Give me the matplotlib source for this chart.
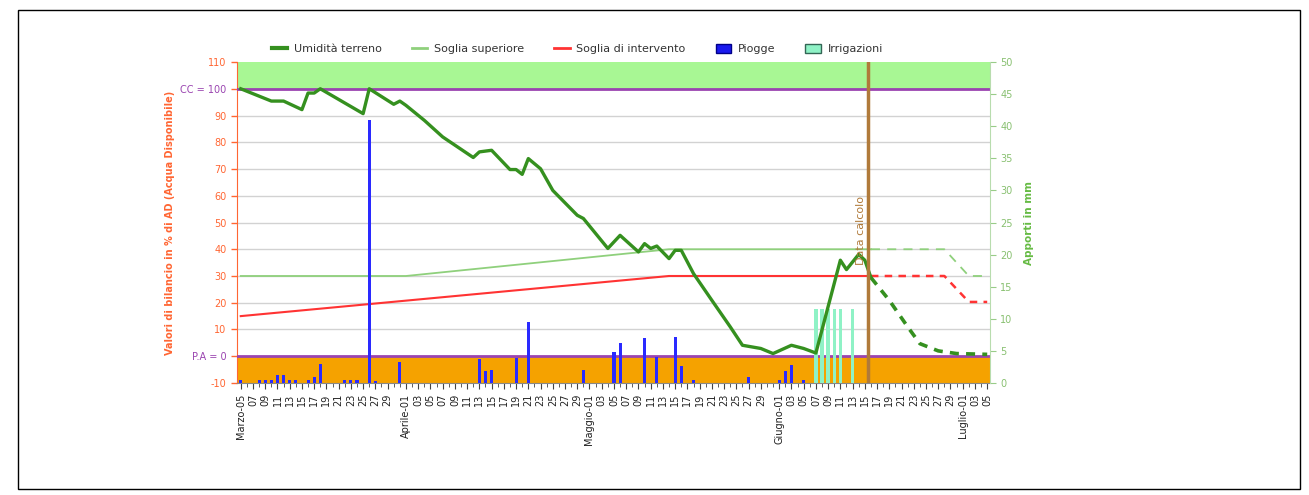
import matplotlib
matplotlib.use("Agg")
import matplotlib.pyplot as plt
import matplotlib.dates as mdates
from matplotlib.lines import Line2D
from matplotlib.patches import Patch, Rectangle
import pandas as pd

ANNO = 2024
MESI = {3: "Marzo", 4: "Aprile", 5: "Maggio", 6: "Giugno", 7: "Luglio"}
INIZIO, FINE = "03-05", "07-05"

# umidità del terreno (% AD) fino alla data di calcolo
umidita_date = ["03-05", "03-10", "03-12", "03-15", "03-16", "03-17", "03-18",
                "03-25", "03-26", "03-30", "03-31", "04-01", "04-04", "04-07",
                "04-12", "04-13", "04-15", "04-18", "04-19", "04-20", "04-21",
                "04-23", "04-25", "04-29", "04-30", "05-04", "05-06", "05-09",
                "05-10", "05-11", "05-12", "05-14", "05-15", "05-16", "05-18",
                "05-21", "05-24", "05-26", "05-29", "05-31", "06-03", "06-05",
                "06-07", "06-11", "06-12", "06-14", "06-15", "06-16"]
umidita_val = [100, 95.4, 95.4, 92.2, 98.4, 98.4, 100,
               90.7, 100, 94.2, 95.4, 93.8, 88.2, 82,
               74.3, 76.4, 77, 69.8, 69.8, 68, 73.9,
               70.1, 62, 52.7, 51.5, 40.3, 45.2, 39,
               42.1, 40.3, 41.2, 36.5, 39.6, 39.6, 30.9,
               20.9, 11, 4.1, 2.9, 1.0, 4.1, 2.9,
               1.2, 35.9, 32.4, 38.1, 35.9, 29.4]

# previsione dopo la data di calcolo
prev_date = ["06-16", "06-19", "06-22", "06-24", "06-27", "06-30", "07-05"]
prev_val = [29.4, 20.9, 11, 4.7, 2.0, 1.0, 0.7]

soglia_sup_date = ["03-05", "04-01", "05-14", "06-16"]
soglia_sup_val = [30, 30, 40, 40]
soglia_sup_prev_date = ["06-16", "06-28", "07-02", "07-05"]
soglia_sup_prev_val = [40, 40, 30, 30]

soglia_int_date = ["03-05", "05-14", "06-16"]
soglia_int_val = [15, 30, 30]
soglia_int_prev_date = ["06-16", "06-28", "07-02", "07-05"]
soglia_int_prev_val = [30, 30, 20.3, 20.3]

piogge_date = ["03-05", "03-08", "03-09", "03-10", "03-11", "03-12", "03-13",
               "03-14", "03-16", "03-17", "03-18", "03-22", "03-23", "03-24",
               "03-26", "03-27", "03-31", "04-13", "04-14", "04-15", "04-19",
               "04-21", "04-30", "05-05", "05-06", "05-10", "05-12", "05-15",
               "05-16", "05-18", "05-27", "06-01", "06-02", "06-03", "06-05"]
piogge_mm = [0.4, 0.4, 0.4, 0.4, 1.2, 1.2, 0.4,
             0.4, 0.4, 0.9, 3.0, 0.4, 0.4, 0.4,
             41.0, 0.3, 3.2, 3.7, 1.9, 2.1, 3.9,
             9.5, 2.0, 4.9, 6.2, 7.0, 4.1, 7.1,
             2.7, 0.5, 1.0, 0.5, 1.8, 2.8, 0.5]

irrig_date = ["06-07", "06-08", "06-09", "06-10", "06-11", "06-13"]
irrig_mm = [11.6, 11.6, 11.6, 11.6, 11.6, 11.6]

data_calcolo = "06-15 12:00"

C_UMID = "#35901f"
C_SUP = "#8fd07c"
C_INT = "#ff3333"
C_PIOG = "#2a2aff"
C_IRR = "#8ff2c6"
C_VIOLA = "#9a44b0"
C_SX = "#ff6633"
C_DX = "#66bb44"
C_DATA = "#b07a3a"


def dt(md):
    return pd.to_datetime([f"{ANNO}-{x}" for x in md])


def etichette_x():
    giorni = pd.date_range(f"{ANNO}-{INIZIO}", f"{ANNO}-{FINE}")
    pos, lab = [], []
    for g in giorni:
        if g.day % 2 == 0 or g.day == 31:
            continue
        pos.append(g)
        if g.day == 1:
            lab.append(f"{MESI[g.month]}-01")
        elif len(pos) == 1:
            lab.append(f"{MESI[g.month]}-{g.day:02d}")
        else:
            lab.append(f"{g.day:02d}")
    return pos, lab


fig = plt.figure(figsize=(13.09, 4.95), dpi=100)
fig.add_artist(Rectangle((0.014, 0.012), 0.979, 0.968, transform=fig.transFigure,
                         fill=False, lw=1, ec="black"))

ax = fig.add_axes([0.181, 0.2263, 0.5753, 0.6484])
ax2 = ax.twinx()
ax3 = ax.twinx()

x0 = pd.Timestamp(f"{ANNO}-{INIZIO}") - pd.Timedelta(hours=15)
x1 = pd.Timestamp(f"{ANNO}-{FINE}") + pd.Timedelta(hours=11)

# fasce e griglia (asse sinistro)
ax.set_ylim(-10, 110)
ax.set_xlim(x0, x1)
ax.axhspan(100, 110, color="#a8f794", lw=0)
ax.axhspan(-10, 0, color="#f5a200", lw=0)
for v in range(10, 110, 10):
    if v != 100:
        ax.axhline(v, color="#d2d2d2", lw=1, zorder=1)
ax.axhline(100, color=C_VIOLA, lw=2, zorder=3)
ax.axhline(0, color=C_VIOLA, lw=2, zorder=3)
ax.plot(dt(soglia_sup_date), soglia_sup_val, color=C_SUP, lw=1.3, zorder=4)
ax.plot(dt(soglia_sup_prev_date), soglia_sup_prev_val, color=C_SUP, lw=1.3,
        ls=(0, (5, 4)), zorder=4)
ax.plot(dt(soglia_int_date), soglia_int_val, color=C_INT, lw=1.5, zorder=4)
ax.plot(dt(soglia_int_prev_date), soglia_int_prev_val, color=C_INT, lw=1.8,
        ls=(0, (3, 2.5)), zorder=4)

yt = list(range(-10, 120, 10))
ylab = [("CC = 100" if v == 100 else "P.A = 0" if v == 0 else str(v)) for v in yt]
ax.set_yticks(yt)
ax.set_yticklabels(ylab)
ax.tick_params(axis="y", colors=C_SX, labelsize=7, length=4, width=1)
for t, v in zip(ax.get_yticklabels(), yt):
    if v in (0, 100):
        t.set_color(C_VIOLA)
ax.set_ylabel("Valori di bilancio in % di AD (Acqua Disponibile)", color=C_SX,
              fontsize=7, fontweight="bold", labelpad=4)
ax.spines["left"].set_color(C_SX)
ax.spines["top"].set_visible(False)
ax.spines["right"].set_visible(False)
ax.spines["bottom"].set_color("#888888")

pos, lab = etichette_x()
ax.set_xticks(pos)
ax.set_xticklabels(lab, rotation=90, fontsize=7, color="#222222")
ax.xaxis.set_minor_locator(mdates.DayLocator())
ax.tick_params(axis="x", which="major", length=4, color="#444444")
ax.tick_params(axis="x", which="minor", length=3, color="#444444")

# apporti in mm (asse destro)
ax2.set_ylim(0, 50)
ax2.bar(dt(piogge_date), piogge_mm, width=0.5, color=C_PIOG, lw=0)
ax2.bar(dt(irrig_date), irrig_mm, width=0.55, color=C_IRR, lw=0)
ax2.set_yticks(range(0, 55, 5))
ax2.tick_params(axis="y", colors="#99cc88", labelsize=7, length=4)
for t in ax2.get_yticklabels():
    t.set_color("#88c070")
ax2.set_ylabel("Apporti in mm", color=C_DX, fontsize=7.5, fontweight="bold", labelpad=8)
ax2.spines["right"].set_color("#b8dcae")
for s in ("left", "top", "bottom"):
    ax2.spines[s].set_visible(False)

# umidità e data di calcolo sopra le barre
ax3.set_ylim(-10, 110)
ax3.yaxis.set_visible(False)
for s in ax3.spines.values():
    s.set_visible(False)
ax3.plot(dt(umidita_date), umidita_val, color=C_UMID, lw=2.4, solid_joinstyle="round")
ax3.plot(dt(prev_date), prev_val, color=C_UMID, lw=2.6, ls=(0, (2.5, 2)))
xc = pd.Timestamp(f"{ANNO}-{data_calcolo}")
ax3.axvline(xc, color=C_DATA, lw=2.5)
ax3.text(xc - pd.Timedelta(hours=8), 34, "Data calcolo", rotation=90, color=C_DATA,
         fontsize=8, ha="right", va="bottom")
ax3.set_xlim(x0, x1)

handles = [
    Line2D([], [], color=C_UMID, lw=3),
    Line2D([], [], color=C_SUP, lw=2),
    Line2D([], [], color=C_INT, lw=2),
    Patch(facecolor="#1a1aee", edgecolor="#000088"),
    Patch(facecolor=C_IRR, edgecolor="#336655"),
]
labels = ["Umidità terreno", "Soglia superiore", "Soglia di intervento", "Piogge", "Irrigazioni"]
fig.legend(handles, labels, loc="center", bbox_to_anchor=(0.441, 0.901), ncol=5,
           frameon=False, fontsize=8, handlelength=1.4, handleheight=0.9,
           handletextpad=0.6, columnspacing=2.7, labelcolor="#333333")

fig.savefig("out.png", dpi=100)
